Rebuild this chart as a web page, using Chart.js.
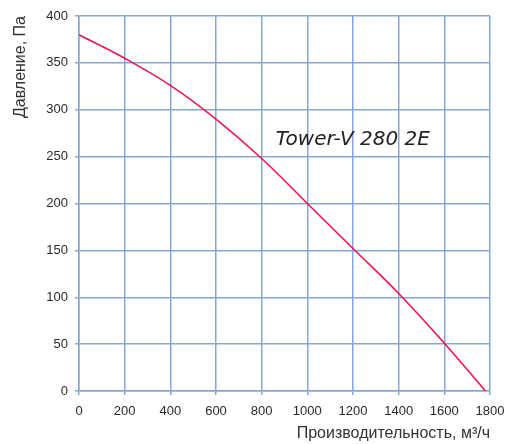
<!DOCTYPE html>
<html>
<head>
<meta charset="utf-8">
<script src="https://cdn.jsdelivr.net/npm/chart.js@4.4.1/dist/chart.umd.min.js"></script>
<style>
  html, body { margin: 0; padding: 0; background: #fff; }
  #wrap { width: 509px; height: 444px; }
</style>
</head>
<body>
<div id="wrap"><canvas id="chart" width="509" height="444"></canvas></div>
<script>
// Расход, м3/ч и давление, Па
const flow = [0, 200, 400, 600, 800, 1000, 1200, 1400, 1600, 1780];
const pressure = [380, 355, 326, 290, 248, 200, 152, 104, 51, 0];
const xTicks = [0, 200, 400, 600, 800, 1000, 1200, 1400, 1600, 1800];
const yTicks = [0, 50, 100, 150, 200, 250, 300, 350, 400];
const modelName = 'Tower-V 280 2E';
const labelAt = { x: 862, y: 262 };

const gridColor = '#86a5da';
const tickFont = { family: 'Liberation Sans', size: 13 };
const titleFont = { family: 'Liberation Sans', size: 16 };

// подпись модели внутри поля графика
const modelLabel = {
  id: 'modelLabel',
  afterDatasetsDraw(chart) {
    const { ctx, scales } = chart;
    ctx.save();
    ctx.font = 'italic 20px "DejaVu Sans"';
    ctx.fillStyle = '#222';
    ctx.textBaseline = 'alphabetic';
    ctx.fillText(modelName, scales.x.getPixelForValue(labelAt.x), scales.y.getPixelForValue(labelAt.y));
    ctx.restore();
  }
};

new Chart(document.getElementById('chart'), {
  type: 'line',
  data: {
    datasets: [{
      data: flow.map((v, i) => ({ x: v, y: pressure[i] })),
      borderColor: '#e8174f',
      borderWidth: 1.6,
      pointRadius: 0,
      tension: 0.4,
      fill: false
    }]
  },
  options: {
    responsive: false,
    animation: false,
    layout: { padding: { top: 16, right: 19, left: 0, bottom: 0 } },
    plugins: { legend: { display: false }, tooltip: { enabled: false } },
    scales: {
      x: {
        type: 'linear',
        min: 0, max: 1800,
        afterBuildTicks: s => { s.ticks = xTicks.map(v => ({ value: v })); },
        afterFit: s => { s.height = 53; s.paddingLeft = 0; s.paddingRight = 0; },
        grid: { color: gridColor, lineWidth: 1.5, tickLength: 4, tickColor: gridColor },
        border: { color: gridColor, width: 1.5 },
        ticks: { color: '#2a2a2a', font: tickFont, padding: 9, maxRotation: 0, callback: v => String(v) },
        title: {
          display: true, text: 'Производительность, м³/ч', align: 'end',
          color: '#333', font: titleFont, padding: { top: 0, bottom: 1 }
        }
      },
      y: {
        min: 0, max: 400,
        afterBuildTicks: s => { s.ticks = yTicks.map(v => ({ value: v })); },
        afterFit: s => { s.width = 79; s.paddingTop = 0; s.paddingBottom = 0; },
        grid: { color: gridColor, lineWidth: 1.5, tickLength: 4, tickColor: gridColor },
        border: { color: gridColor, width: 1.5 },
        ticks: { color: '#2a2a2a', font: tickFont, padding: 7, callback: v => String(v) },
        title: {
          display: true, text: 'Давление, Па', align: 'end',
          color: '#333', font: titleFont, padding: { top: 11, bottom: 0 }
        }
      }
    }
  },
  plugins: [modelLabel]
});
</script>
</body>
</html>
